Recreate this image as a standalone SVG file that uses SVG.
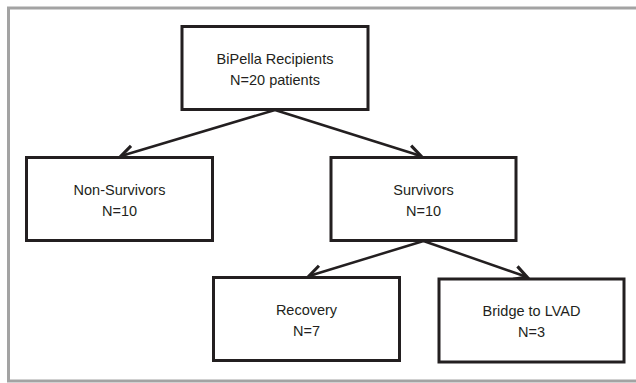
<svg xmlns="http://www.w3.org/2000/svg" width="636" height="383" viewBox="0 0 636 383">
  <style>
    .box { fill: #ffffff; stroke: #231f20; stroke-width: 3; }
    .lbl { font-family: "Liberation Sans", Arial, sans-serif; font-size: 14.5px; fill: #231f20; text-anchor: middle; }
    .conn { stroke: #231f20; stroke-width: 2.5; fill: none; marker-end: url(#arr); }
  </style>
  <defs>
    <marker id="arr" markerUnits="userSpaceOnUse" markerWidth="20" markerHeight="20" viewBox="-12 -8 14 16" refX="0" refY="0" orient="auto">
      <path d="M -10 -5.5 L 0 0 L -10 5.5" fill="none" stroke="#231f20" stroke-width="2.5" stroke-linejoin="miter"/>
    </marker>
  </defs>
  <rect width="636" height="383" fill="#ffffff"/>
  <path id="frame" d="M 636 8 L 8.5 8 L 8.5 381 L 636 381" fill="none" stroke="#a3a3a3" stroke-width="3"/>

  <g id="connectors">
    <line class="conn" x1="275" y1="110" x2="121" y2="156"/>
    <line class="conn" x1="275" y1="110" x2="421" y2="156"/>
    <line class="conn" x1="423.5" y1="241" x2="309" y2="276"/>
    <line class="conn" x1="423.5" y1="241" x2="527" y2="277"/>
  </g>

  <g id="node-bipella">
    <rect class="box" x="182" y="26.5" width="186" height="83"/>
    <text class="lbl" x="275" y="63.5">BiPella Recipients</text>
    <text class="lbl" x="275" y="85">N=20 patients</text>
  </g>
  <g id="node-nonsurvivors">
    <rect class="box" x="26.5" y="157.5" width="186" height="83"/>
    <text class="lbl" x="119.5" y="195">Non-Survivors</text>
    <text class="lbl" x="119.5" y="216">N=10</text>
  </g>
  <g id="node-survivors">
    <rect class="box" x="331" y="157.5" width="185" height="83"/>
    <text class="lbl" x="423.5" y="195">Survivors</text>
    <text class="lbl" x="423.5" y="216">N=10</text>
  </g>
  <g id="node-recovery">
    <rect class="box" x="213.5" y="277.5" width="186" height="83"/>
    <text class="lbl" x="306.5" y="315">Recovery</text>
    <text class="lbl" x="306.5" y="336">N=7</text>
  </g>
  <g id="node-lvad">
    <rect class="box" x="439" y="279" width="185" height="83"/>
    <text class="lbl" x="531.5" y="316">Bridge to LVAD</text>
    <text class="lbl" x="531.5" y="337">N=3</text>
  </g>
</svg>
